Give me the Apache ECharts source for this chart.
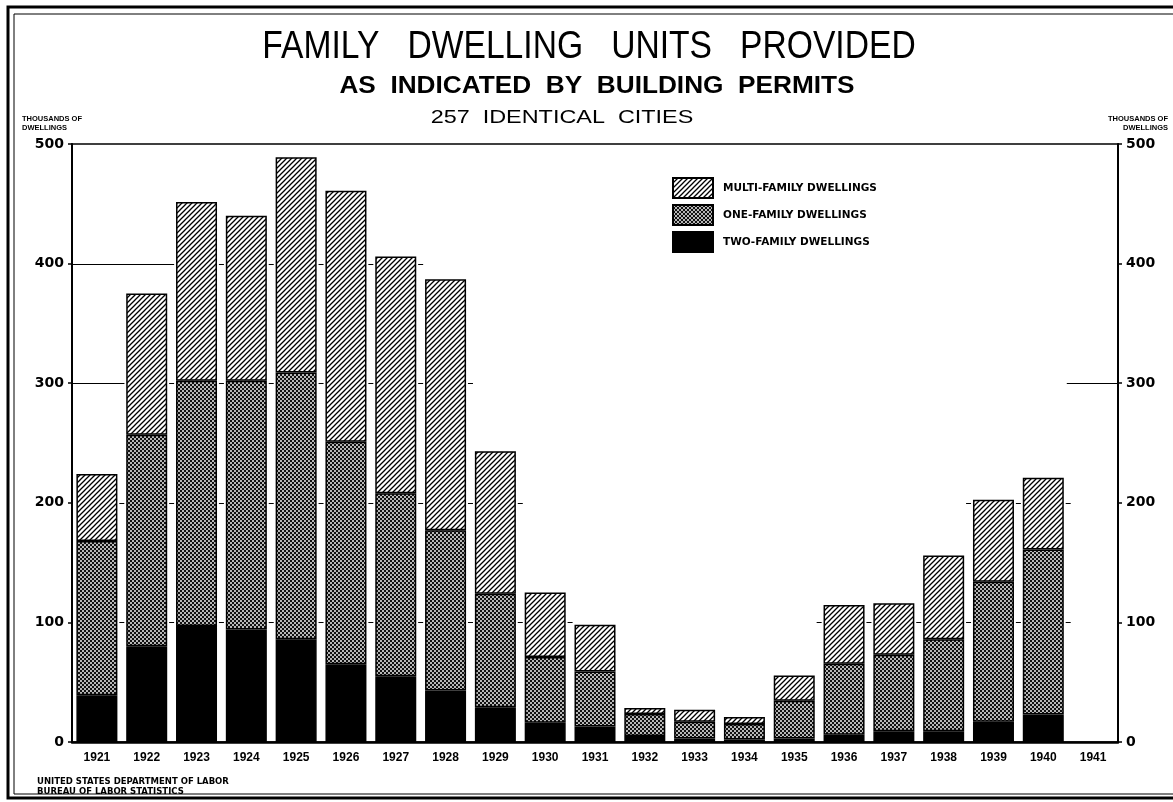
<!DOCTYPE html>
<html>
<head>
<meta charset="utf-8">
<script src="https://cdn.jsdelivr.net/npm/echarts@6/dist/echarts.min.js"></script>
<style>
html,body{margin:0;padding:0;background:#fff;}
#chart{width:1173px;height:802px;}
</style>
</head>
<body>
<div id="chart"></div>
<script>
// ---- data (thousands of dwellings) ----
const years = ['1921','1922','1923','1924','1925','1926','1927','1928','1929','1930','1931','1932','1933','1934','1935','1936','1937','1938','1939','1940','1941'];
const twoFamily   = [39, 80, 97, 94, 86, 65, 55, 43, 29, 16, 13, 5, 3, 2, 3, 6, 9, 9, 17, 23, null];
const oneFamily   = [129, 177, 205, 208, 223, 186, 153, 134, 95, 55, 46, 18.5, 14, 13, 31.5, 59.5, 64, 77, 117, 138, null];
const multiFamily = [56, 118, 149.5, 138, 180, 210, 198, 210, 119, 54, 39, 5, 10, 6, 21, 49, 43, 70, 68.5, 60, null];
const yTicks = [0, 100, 200, 300, 400, 500];
const gridLevels = [100, 200, 300, 400];
const rightStretchLevels = [300];

const seriesNames = ['TWO-FAMILY DWELLINGS', 'ONE-FAMILY DWELLINGS', 'MULTI-FAMILY DWELLINGS'];
const legendOrder = ['MULTI-FAMILY DWELLINGS', 'ONE-FAMILY DWELLINGS', 'TWO-FAMILY DWELLINGS'];

function hatchPattern() {
  const c = document.createElement('canvas');
  c.width = 5; c.height = 5;
  const g = c.getContext('2d');
  g.fillStyle = '#fff'; g.fillRect(0, 0, 5, 5);
  g.strokeStyle = '#000'; g.lineWidth = 1.3;
  g.beginPath();
  g.moveTo(-1, 6); g.lineTo(6, -1);
  g.moveTo(-2, 2); g.lineTo(2, -2);
  g.moveTo(3, 7); g.lineTo(7, 3);
  g.stroke();
  return c;
}
function dotPattern() {
  const c = document.createElement('canvas');
  c.width = 4; c.height = 4;
  const g = c.getContext('2d');
  g.fillStyle = '#111'; g.fillRect(0, 0, 4, 4);
  g.fillStyle = '#fff';
  g.beginPath(); g.arc(1, 1, 0.95, 0, Math.PI * 2); g.fill();
  g.beginPath(); g.arc(3, 3, 0.95, 0, Math.PI * 2); g.fill();
  return c;
}

const hatch = { image: hatchPattern(), repeat: 'repeat' };
const dots = { image: dotPattern(), repeat: 'repeat' };

const BAR_W = 41;
const chart = echarts.init(document.getElementById('chart'), null, { renderer: 'canvas' });

const barBase = {
  type: 'bar',
  stack: 'total',
  barWidth: BAR_W,
  animation: false,
  z: 3,
  emphasis: { disabled: true }
};

const smallFont = 'bold 7.5px "Liberation Sans", Arial, sans-serif';

function txt(x, y, text, font, align, scaleX) {
  return { type: 'text', silent: true, x: x, y: y, scaleX: scaleX || 1, z: 10,
    style: { text: text, font: font, fill: '#000', align: align, verticalAlign: 'middle', textAlign: align, textVerticalAlign: 'middle' } };
}

chart.setOption({
  backgroundColor: '#fff',
  animation: false,
  grid: {
    left: 72, right: 55, top: 144, bottom: 60,
    show: true, borderColor: '#000', borderWidth: 1.5,
    outerBoundsMode: 'none', containLabel: false
  },
  legend: {
    orient: 'vertical',
    left: 672, top: 177, padding: 0,
    itemWidth: 40, itemHeight: 20, itemGap: 5,
    icon: 'rect',
    data: legendOrder,
    textStyle: { color: '#000', fontSize: 10.5, fontWeight: 'bold', fontFamily: '"DejaVu Sans", sans-serif', padding: [0, 0, 0, 5] },
    selectedMode: false
  },
  xAxis: {
    type: 'category',
    data: years,
    boundaryGap: true,
    axisLine: { show: true, lineStyle: { color: '#000', width: 2.5 } },
    axisTick: { show: false },
    axisLabel: { color: '#000', fontSize: 12, fontWeight: 'bold', fontFamily: '"Liberation Sans", Arial, sans-serif', margin: 10, interval: 0 },
    splitLine: { show: false }
  },
  yAxis: [
    {
      type: 'value', position: 'left', min: yTicks[0], max: yTicks[yTicks.length - 1], interval: 100,
      axisLine: { show: true, lineStyle: { color: '#000', width: 2 } },
      axisTick: { show: true, length: 4, lineStyle: { color: '#000', width: 1.5 } },
      axisLabel: { color: '#000', fontSize: 14, fontWeight: 'bold', fontFamily: '"DejaVu Sans", sans-serif', margin: 8 },
      splitLine: { show: false }
    },
    {
      type: 'value', position: 'right', min: yTicks[0], max: yTicks[yTicks.length - 1], interval: 100,
      axisLine: { show: true, lineStyle: { color: '#000', width: 2 } },
      axisTick: { show: true, length: 4, lineStyle: { color: '#000', width: 1.5 } },
      axisLabel: { color: '#000', fontSize: 14, fontWeight: 'bold', fontFamily: '"DejaVu Sans", sans-serif', margin: 8 },
      splitLine: { show: false }
    }
  ],
  series: [
    Object.assign({}, barBase, {
      name: seriesNames[0], data: twoFamily,
      itemStyle: { color: '#000', borderColor: '#000', borderWidth: 1.5 }
    }),
    Object.assign({}, barBase, {
      name: seriesNames[1], data: oneFamily,
      itemStyle: { color: dots, borderColor: '#000', borderWidth: 1.5 }
    }),
    Object.assign({}, barBase, {
      name: seriesNames[2], data: multiFamily,
      itemStyle: { color: hatch, borderColor: '#000', borderWidth: 1.5 }
    })
  ]
});

// ---- gridline fragments as drawn on the original: dashes in the gaps next to bars that reach the level ----
const totals = years.map((_, i) => (twoFamily[i] || 0) + (oneFamily[i] || 0) + (multiFamily[i] || 0));
const cx = years.map(y => chart.convertToPixel({ xAxisIndex: 0 }, y));
const band = cx.length > 1 ? cx[1] - cx[0] : 50;
const axisL = cx[0] - band / 2;
const axisR = cx[cx.length - 1] + band / 2;
const lineStyle = { stroke: '#000', lineWidth: 1 };
const gridGraphics = [];
function seg(x1, x2, y) {
  gridGraphics.push({ type: 'line', silent: true, z: 1, shape: { x1: x1, y1: y, x2: x2, y2: y }, style: lineStyle });
}
gridLevels.forEach(level => {
  const py = Math.round(chart.convertToPixel({ yAxisIndex: 0 }, level)) + 0.5;
  let first = totals.findIndex(t => t >= level);
  if (first > 0) seg(axisL, cx[first] - BAR_W / 2 - 2, py);
  for (let k = 1; k < years.length; k++) {
    if (Math.max(totals[k - 1], totals[k]) >= level) {
      const b = cx[k] - band / 2;
      seg(b - 2.5, b + 2.5, py);
    }
  }
  if (rightStretchLevels.indexOf(level) >= 0) {
    let last = -1;
    totals.forEach((t, i) => { if (t > 0) last = i; });
    seg(cx[last] + BAR_W / 2 + 3, axisR, py);
  }
});

chart.setOption({
  graphic: [
    { type: 'rect', silent: true, shape: { x: 8, y: 7, width: 1200, height: 791 }, style: { fill: null, stroke: '#000', lineWidth: 3 } },
    { type: 'rect', silent: true, shape: { x: 14, y: 14, width: 1200, height: 780 }, style: { fill: null, stroke: '#000', lineWidth: 1 } },
    txt(589, 48, 'FAMILY   DWELLING   UNITS   PROVIDED', '38px "Liberation Sans", Arial, sans-serif', 'center', 0.885),
    txt(597, 87, 'AS  INDICATED  BY  BUILDING  PERMITS', 'bold 23px "Liberation Sans", Arial, sans-serif', 'center', 1.14),
    txt(562, 118, '257  IDENTICAL  CITIES', '18px "Liberation Sans", Arial, sans-serif', 'center', 1.3),
    txt(22, 119, 'THOUSANDS OF', smallFont, 'left'),
    txt(22, 128, 'DWELLINGS', smallFont, 'left'),
    txt(1168, 119, 'THOUSANDS OF', smallFont, 'right'),
    txt(1168, 128, 'DWELLINGS', smallFont, 'right'),
    txt(37, 782, 'UNITED STATES DEPARTMENT OF LABOR', 'bold 8.5px "DejaVu Sans", sans-serif', 'left'),
    txt(37, 792, 'BUREAU OF LABOR STATISTICS', 'bold 8.5px "DejaVu Sans", sans-serif', 'left')
  ].concat(gridGraphics)
});
</script>
</body>
</html>
